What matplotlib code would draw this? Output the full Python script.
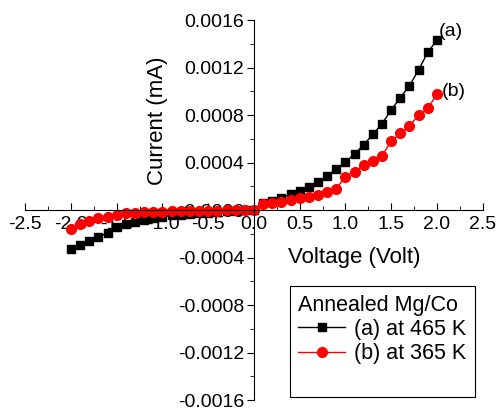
import numpy as np
import matplotlib
matplotlib.use("Agg")
import matplotlib.pyplot as plt
from matplotlib.lines import Line2D
from matplotlib.ticker import MultipleLocator

plt.rcParams['font.family'] = ['Liberation Sans', 'DejaVu Sans']

voltage = np.round(np.arange(-2.0, 2.01, 0.1), 1)

# (a) 465 K
courant_a = [-3.28e-4, -2.95e-4, -2.61e-4, -2.30e-4, -1.91e-4, -1.40e-4, -1.15e-4, -1.04e-4,
             -8.7e-5, -7.0e-5, -5.6e-5, -4.5e-5, -3.8e-5, -3.2e-5, -2.6e-5, -2.1e-5,
             -1.6e-5, -1.1e-5, -7e-6, -3e-6, 0.0,
             5.6e-5, 7.6e-5, 1.04e-4, 1.32e-4, 1.63e-4, 1.96e-4, 2.36e-4, 2.89e-4, 3.45e-4,
             4.04e-4, 4.72e-4, 5.50e-4, 6.37e-4, 7.27e-4, 8.42e-4, 9.46e-4, 1.047e-3,
             1.179e-3, 1.328e-3, 1.432e-3]

# (b) 365 K
courant_b = [-1.63e-4, -1.18e-4, -9.0e-5, -7.0e-5, -5.6e-5, -3.9e-5, -2.8e-5, -2.5e-5,
             -2.0e-5, -1.7e-5, -1.4e-5, -1.2e-5, -1.0e-5, -8e-6, -7e-6, -6e-6,
             -5e-6, -4e-6, -3e-6, -1e-6, 0.0,
             5.1e-5, 6.2e-5, 7.0e-5, 8.4e-5, 9.8e-5, 1.12e-4, 1.29e-4, 1.49e-4, 1.80e-4,
             2.81e-4, 3.23e-4, 3.79e-4, 4.13e-4, 4.55e-4, 5.81e-4, 6.46e-4, 7.07e-4,
             8.0e-4, 8.56e-4, 9.74e-4]

fig = plt.figure(figsize=(4.96, 4.09), dpi=100)
ax = fig.add_axes([0.051, 0.022, 0.922, 0.929])

ax.plot(voltage, courant_a, color='black', marker='s', markersize=6, linewidth=1,
        label='(a) at 465 K')
ax.plot(voltage, courant_b, color='red', marker='o', markersize=7, linewidth=1,
        label='(b) at 365 K')

ax.set_xlim(-2.5, 2.5)
ax.set_ylim(-0.0016, 0.0016)

ax.spines['left'].set_position(('data', 0))
ax.spines['bottom'].set_position(('data', 0))
ax.spines['right'].set_visible(False)
ax.spines['top'].set_visible(False)

ax.xaxis.set_minor_locator(MultipleLocator(0.25))
ax.yaxis.set_minor_locator(MultipleLocator(0.0002))
ax.set_xticks(np.arange(-2.5, 2.51, 0.5))
ax.set_xticklabels(['%.1f' % v for v in np.arange(-2.5, 2.51, 0.5)])
ax.set_yticks(np.arange(-0.0016, 0.00161, 0.0004))
ax.set_yticklabels(['%.4f' % v for v in np.arange(-0.0016, 0.00161, 0.0004)])

ax.tick_params(axis='x', which='major', direction='in', length=5, labelsize=14, pad=4)
ax.tick_params(axis='x', which='minor', direction='in', length=3)
ax.tick_params(axis='y', which='major', direction='out', length=5, labelsize=14, pad=2)
ax.tick_params(axis='y', which='minor', direction='out', length=3)

ax.text(0.719, 0.376, 'Voltage (Volt)', transform=ax.transAxes, ha='center', va='center',
        fontsize=16)
ax.text(0.288, 0.734, 'Current (mA)', transform=ax.transAxes, ha='center', va='center',
        rotation=90, fontsize=16)

ax.text(2.02, 0.00150, '(a)', fontsize=14, va='center', ha='left')
ax.text(2.05, 0.00100, '(b)', fontsize=14, va='center', ha='left')

handles, labels = ax.get_legend_handles_labels()
handles.append(Line2D([], [], linestyle='none'))
labels.append(' ')
leg = ax.legend(handles, labels, title='Annealed Mg/Co', loc='lower right',
                bbox_to_anchor=(0.983, 0.008), fontsize=15.5, title_fontsize=15.5,
                frameon=True, fancybox=False, edgecolor='black', framealpha=1,
                alignment='left', handlelength=2.2, handletextpad=0.4,
                labelspacing=0.15, borderpad=0.4, borderaxespad=0)
leg.get_frame().set_linewidth(0.8)

plt.savefig('out.png', dpi=100)
